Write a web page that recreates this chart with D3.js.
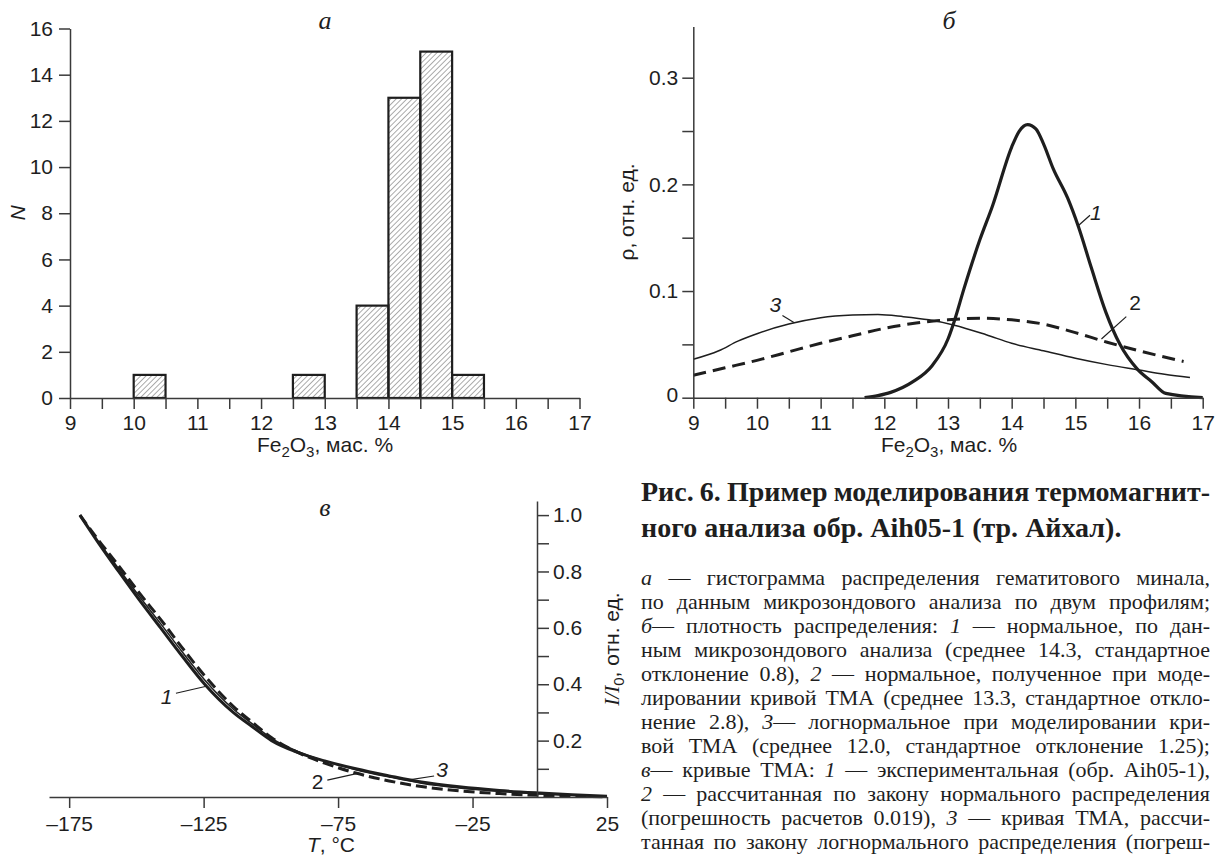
<!DOCTYPE html>
<html>
<head>
<meta charset="utf-8">
<script src="https://cdn.jsdelivr.net/npm/d3@7"></script>
<style>
  body { margin: 0; background: #fff; }
  svg { display: block; }
</style>
</head>
<body>
<script>
// ---- data ----

// а: histogram of Fe2O3 content
const binStarts = [10, 12.5, 13.5, 14, 14.5, 15];
const binCounts = [1, 1, 4, 13, 15, 1];
const binWidth = 0.5;
const feTicks = [9, 9.5, 10, 10.5, 11, 11.5, 12, 12.5, 13, 13.5, 14, 14.5, 15, 15.5, 16, 16.5, 17];
const countTicks = [0, 2, 4, 6, 8, 10, 12, 14, 16];

// б: density curves [Fe2O3, rho]
const rhoMicro = [[11.69, 0.000], [11.9, 0.002], [12.1, 0.005], [12.45, 0.015], [12.75, 0.030], [13.0, 0.055],
  [13.1, 0.072], [13.25, 0.102], [13.5, 0.148], [13.7, 0.180], [14.0, 0.235], [14.12, 0.250], [14.25, 0.256],
  [14.38, 0.252], [14.5, 0.238], [14.65, 0.215], [14.88, 0.187], [15.05, 0.160], [15.25, 0.122], [15.48, 0.080],
  [15.7, 0.050], [15.97, 0.027], [16.2, 0.015], [16.42, 0.004], [17.0, 0.0]];
const rhoNormal = [[9, 0.021], [9.5, 0.028], [10, 0.035], [10.5, 0.043], [11, 0.051], [11.5, 0.058], [12, 0.065],
  [12.5, 0.070], [13, 0.073], [13.5, 0.0745], [14, 0.073], [14.5, 0.069], [15, 0.061], [15.5, 0.052], [16, 0.044], [16.7, 0.034]];
const rhoLognormal = [[9, 0.036], [9.4, 0.044], [9.7, 0.053], [10, 0.060], [10.5, 0.069], [11, 0.075], [11.5, 0.0775],
  [11.9, 0.078], [12.3, 0.076], [12.7, 0.073], [13.1, 0.068], [13.6, 0.059], [14.0, 0.051], [14.5, 0.044],
  [15.0, 0.037], [15.5, 0.031], [16.0, 0.026], [16.4, 0.022], [16.8, 0.019]];
const rhoTicks = [0, 0.05, 0.1, 0.15, 0.2, 0.25, 0.3];

// в: TMA curves I/I0 vs T
const tmaT =      [-171, -164, -156.6, -149, -141, -133, -124.6, -114, -107, -99.7, -90, -80, -68.4, -56, -44, -30, -15, 0, 12, 25];
const tmaExp =    [1.0, 0.90, 0.80, 0.70, 0.60, 0.50, 0.40, 0.30, 0.25, 0.20, 0.158, 0.128, 0.100, 0.075, 0.053, 0.036, 0.023, 0.014, 0.008, 0.003];
const tmaNormal = [1.0, 0.91, 0.82, 0.725, 0.63, 0.53, 0.43, 0.322, 0.266, 0.21, 0.158, 0.12, 0.085, 0.057, 0.037, 0.022, 0.012, 0.006, 0.003, 0.001];
const tmaLog =    [1.0, 0.905, 0.81, 0.713, 0.615, 0.515, 0.415, 0.312, 0.26, 0.208, 0.162, 0.128, 0.097, 0.071, 0.049, 0.032, 0.020, 0.011, 0.006, 0.002];
const tTicks = [-175, -125, -75, -25, 25];
const iTicks = [0.1, 0.2, 0.3, 0.4, 0.5, 0.6, 0.7, 0.8, 0.9, 1.0];

// curve number labels: text position and leader line, in data units
const rhoNotes = [
  {label: '1', italic: true, text: [15.32, 0.1666], from: [15.04, 0.161], to: [15.23, 0.171]},
  {label: '2', italic: false, text: [15.94, 0.082], from: [15.41, 0.055], to: [15.80, 0.076]},
  {label: '3', italic: true, text: [10.29, 0.0803], from: [10.40, 0.077], to: [10.58, 0.0705]}
];
const tmaNotes = [
  {label: '1', italic: true, text: [-138.8, 0.331], from: [-135.3, 0.368], to: [-124, 0.393]},
  {label: '2', italic: false, text: [-82.6, 0.029], from: [-79, 0.060], to: [-67.7, 0.084]},
  {label: '3', italic: true, text: [-36.3, 0.071], from: [-39.3, 0.0745], to: [-49.8, 0.059]}
];

// caption (words wrapped in _ _ are italic)
const captionTitle = [
  'Рис. 6. Пример моделирования термомагнит-',
  'ного анализа обр. Aih05-1 (тр. Айхал).'
];
const captionLines = [
  '_а_ — гистограмма распределения гематитового минала,',
  'по данным микрозондового анализа по двум профилям;',
  '_б_— плотность распределения: _1_ — нормальное, по дан-',
  'ным микрозондового анализа (среднее 14.3, стандартное',
  'отклонение 0.8), _2_ — нормальное, полученное при моде-',
  'лировании кривой ТМА (среднее 13.3, стандартное откло-',
  'нение 2.8), _3_— логнормальное при моделировании кри-',
  'вой ТМА (среднее 12.0, стандартное отклонение 1.25);',
  '_в_— кривые ТМА: _1_ — экспериментальная (обр. Aih05-1),',
  '_2_ — рассчитанная по закону нормального распределения',
  '(погрешность расчетов 0.019), _3_ — кривая ТМА, рассчи-',
  'танная по закону логнормального распределения (погреш-'
];

const sans = "'Liberation Sans', Arial, sans-serif";
const serif = "'Liberation Serif', 'Times New Roman', serif";
const ink = '#1e1e1e';
const axisInk = '#3a3a3a';
const fs = 21;

let svg;

document.addEventListener('DOMContentLoaded', function () {
  svg = d3.select('body').append('svg').attr('width', 1216).attr('height', 858);

  drawHistogram();
  drawDensity();
  drawTma();
  drawCaption();
});

function styleAxis(g) {
  g.attr('font-family', sans).attr('font-size', fs);
  g.select('.domain').attr('stroke', axisInk).attr('stroke-width', 1.5);
  g.selectAll('.tick line').attr('stroke', axisInk).attr('stroke-width', 1.5);
  g.selectAll('.tick text').attr('fill', ink);
}

// Fe2O3, мас. %  with subscripts
function feLabel(g, x, y) {
  const t = g.append('text').attr('x', x).attr('y', y).attr('text-anchor', 'middle')
    .attr('font-family', sans).attr('font-size', fs).attr('fill', ink);
  t.append('tspan').text('Fe');
  t.append('tspan').attr('font-size', 15).attr('dy', 5).text('2');
  t.append('tspan').attr('dy', -5).text('O');
  t.append('tspan').attr('font-size', 15).attr('dy', 5).text('3');
  t.append('tspan').attr('dy', -5).text(', мас. %');
}

function panelTitle(g, x, y, s) {
  g.append('text').attr('x', x).attr('y', y).attr('text-anchor', 'middle')
    .attr('font-family', serif).attr('font-style', 'italic').attr('font-size', 26)
    .attr('fill', ink).text(s);
}

function drawNotes(g, notes, xs, ys) {
  notes.forEach(n => {
    g.append('line')
      .attr('x1', xs(n.from[0])).attr('y1', ys(n.from[1]))
      .attr('x2', xs(n.to[0])).attr('y2', ys(n.to[1]))
      .attr('stroke', ink).attr('stroke-width', 1.2);
    g.append('text')
      .attr('x', xs(n.text[0])).attr('y', ys(n.text[1]))
      .attr('text-anchor', 'middle')
      .attr('font-family', sans).attr('font-size', fs)
      .attr('font-style', n.italic ? 'italic' : 'normal')
      .attr('fill', ink).text(n.label);
  });
}

// ---------- а ----------
function drawHistogram() {
  const g = svg.append('g');
  const xScale = d3.scaleLinear().domain([9, 17]).range([70, 579.5]);
  const yScale = d3.scaleLinear().domain([0, 16]).range([398, 28.5]);

  const defs = svg.append('defs');
  defs.append('pattern')
    .attr('id', 'hatch').attr('patternUnits', 'userSpaceOnUse')
    .attr('width', 3.8).attr('height', 3.8)
    .attr('patternTransform', 'rotate(45)')
    .append('line')
    .attr('x1', 0).attr('y1', 0).attr('x2', 0).attr('y2', 3.8)
    .attr('stroke', '#555').attr('stroke-width', 1);

  g.selectAll('rect.bar')
    .data(binStarts)
    .enter()
    .append('rect')
    .attr('class', 'bar')
    .attr('x', d => xScale(d))
    .attr('width', d => xScale(d + binWidth) - xScale(d))
    .attr('y', (d, i) => yScale(binCounts[i]))
    .attr('height', (d, i) => yScale(0) - yScale(binCounts[i]))
    .attr('fill', 'url(#hatch)')
    .attr('stroke', ink).attr('stroke-width', 2.2);

  const xAxis = d3.axisBottom(xScale).tickValues(feTicks).tickSize(11).tickPadding(6).tickSizeOuter(0)
    .tickFormat(d => Number.isInteger(d) ? d : '');
  g.append('g').attr('transform', 'translate(0,398)').call(xAxis).call(styleAxis);

  const yAxis = d3.axisLeft(yScale).tickValues(countTicks).tickSize(11).tickPadding(6).tickSizeOuter(0);
  g.append('g').attr('transform', 'translate(70,0)').call(yAxis).call(styleAxis);

  feLabel(g, 325, 452);
  g.append('text')
    .attr('transform', 'translate(18,213) rotate(-90)')
    .attr('dy', '0.35em').attr('text-anchor', 'middle')
    .attr('font-family', sans).attr('font-size', fs).attr('font-style', 'italic')
    .attr('fill', ink).text('N');
  panelTitle(g, 325, 29, 'а');
}

// ---------- б ----------
function drawDensity() {
  const g = svg.append('g');
  const xScale = d3.scaleLinear().domain([9, 17]).range([693.3, 1202.7]);
  const yScale = d3.scaleLinear().domain([0, 0.348]).range([397.7, 26.5]);

  const line = d3.line().x(d => xScale(d[0])).y(d => yScale(d[1])).curve(d3.curveMonotoneX);

  g.append('path').datum(rhoLognormal).attr('d', line)
    .attr('fill', 'none').attr('stroke', ink).attr('stroke-width', 1.5);
  g.append('path').datum(rhoNormal).attr('d', line)
    .attr('fill', 'none').attr('stroke', ink).attr('stroke-width', 3)
    .attr('stroke-dasharray', '13,7');
  g.append('path').datum(rhoMicro).attr('d', line)
    .attr('fill', 'none').attr('stroke', ink).attr('stroke-width', 3.2)
    .attr('stroke-linejoin', 'round');

  const xAxis = d3.axisBottom(xScale).tickValues(feTicks).tickSize(11).tickPadding(6).tickSizeOuter(0)
    .tickFormat(d => Number.isInteger(d) ? d : '');
  g.append('g').attr('transform', 'translate(0,397.7)').call(xAxis).call(styleAxis);

  const yAxis = d3.axisLeft(yScale).tickValues(rhoTicks).tickSize(11).tickPadding(4).tickSizeOuter(0)
    .tickFormat(d => d === 0 ? '0' : (Math.round(d * 100) % 10 === 0 ? d.toFixed(1) : ''));
  g.append('g').attr('transform', 'translate(693.3,0)').call(yAxis).call(styleAxis);
  g.selectAll('.tick text').filter(function () { return this.textContent === '0'; }).attr('dy', '0.2em');

  drawNotes(g, rhoNotes, xScale, yScale);

  feLabel(g, 949, 452);
  g.append('text')
    .attr('transform', 'translate(627,212) rotate(-90)')
    .attr('dy', '0.35em').attr('text-anchor', 'middle')
    .attr('font-family', sans).attr('font-size', fs)
    .attr('fill', ink).text('ρ, отн. ед.');
  panelTitle(g, 949, 29, 'б');
}

// ---------- в ----------
function drawTma() {
  const g = svg.append('g');
  const xScale = d3.scaleLinear().domain([-182.5, 25]).range([49, 607]);
  const yScale = d3.scaleLinear().domain([0, 1.05]).range([797, 501]);

  const line = d3.line().x(d => xScale(d[0])).y(d => yScale(d[1])).curve(d3.curveMonotoneX);
  const pts = vals => tmaT.map((t, i) => [t, vals[i]]);

  g.append('path').datum(pts(tmaNormal)).attr('d', line)
    .attr('fill', 'none').attr('stroke', ink).attr('stroke-width', 3)
    .attr('stroke-dasharray', '11,5');
  g.append('path').datum(pts(tmaLog)).attr('d', line)
    .attr('fill', 'none').attr('stroke', ink).attr('stroke-width', 1.5);
  g.append('path').datum(pts(tmaExp)).attr('d', line)
    .attr('fill', 'none').attr('stroke', ink).attr('stroke-width', 3);

  const xAxis = d3.axisBottom(xScale).tickValues(tTicks).tickSize(11).tickPadding(8).tickSizeOuter(0)
    .tickFormat(d => d < 0 ? '–' + Math.abs(d) : d);
  g.append('g').attr('transform', 'translate(0,797)').call(xAxis).call(styleAxis);

  const yAxis = d3.axisRight(yScale).tickValues(iTicks).tickSize(12).tickPadding(4).tickSizeOuter(0)
    .tickFormat(d => Math.round(d * 10) % 2 === 0 ? d.toFixed(1) : '');
  g.append('g').attr('transform', 'translate(537,0)').call(yAxis).call(styleAxis);

  drawNotes(g, tmaNotes, xScale, yScale);

  const xl = g.append('text').attr('x', 331).attr('y', 852).attr('text-anchor', 'middle')
    .attr('font-family', sans).attr('font-size', fs).attr('fill', ink);
  xl.append('tspan').attr('font-style', 'italic').text('T');
  xl.append('tspan').text(', °C');

  const yl = g.append('text')
    .attr('transform', 'translate(612,649) rotate(-90)')
    .attr('dy', '0.35em').attr('text-anchor', 'middle')
    .attr('font-family', sans).attr('font-size', fs).attr('fill', ink);
  yl.append('tspan').attr('font-family', serif).attr('font-style', 'italic').text('I/I');
  yl.append('tspan').attr('font-size', 15).attr('dy', 5).text('0');
  yl.append('tspan').attr('dy', -5).text(', отн. ед.');

  panelTitle(g, 325, 516, 'в');
}

// ---------- caption ----------
function setLine(g, text, x0, x1, y, size, weight, justify) {
  const words = text.split(' ');
  const build = sz => words.map(w => {
    const parts = w.split('_').filter(p => p.length);
    const t = g.append('text').attr('y', y)
      .attr('font-family', serif).attr('font-size', sz).attr('font-weight', weight).attr('fill', ink);
    let italic = w.startsWith('_');
    parts.forEach(p => {
      t.append('tspan').attr('font-style', italic ? 'italic' : 'normal').text(p);
      italic = !italic;
    });
    return {t: t, w: t.node().getComputedTextLength()};
  });
  let items = build(size);
  let total = d3.sum(items, d => d.w);
  const minGap = size * 0.18;
  // shrink a line that would not fit
  if (justify && total + minGap * (items.length - 1) > x1 - x0) {
    const k = (x1 - x0 - minGap * (items.length - 1)) / total;
    items.forEach(d => d.t.remove());
    items = build(size * k);
    total = d3.sum(items, d => d.w);
  }
  const gap = justify && items.length > 1 ? (x1 - x0 - total) / (items.length - 1) : size * 0.25;
  let x = x0;
  items.forEach(d => { d.t.attr('x', x); x += d.w + gap; });
}

function drawCaption() {
  const g = svg.append('g');
  const x0 = 641, x1 = 1210;
  captionTitle.forEach((s, i) => setLine(g, s, x0, x1, 501 + i * 36, 28, 'bold', i === 0));
  captionLines.forEach((s, i) => setLine(g, s, x0, x1, 585 + i * 24, 22, 'normal', true));
}
</script>
</body>
</html>
